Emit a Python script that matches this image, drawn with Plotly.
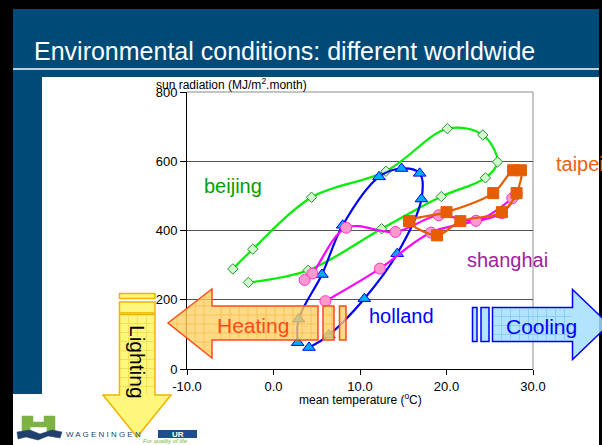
import plotly.graph_objects as go

# ---- monthly climate data (mean temperature in degC, sun radiation in MJ/m2.month)
beijing_temp = [-4.7, -2.4, 4.4, 13.0, 20.1, 24.2, 25.9, 24.5, 19.4, 12.5, 4.0, -2.9]
beijing_rad = [289, 346, 496, 571, 694, 676, 598, 552, 498, 405, 285, 250]

holland_temp = [2.8, 2.9, 5.6, 8.0, 12.2, 14.8, 16.9, 17.1, 14.3, 10.5, 6.4, 4.1]
holland_rad = [76, 144, 273, 415, 555, 579, 565, 491, 333, 203, 98, 62]

shanghai_temp = [3.6, 4.5, 8.4, 14.1, 19.1, 23.4, 27.6, 28.1, 26.4, 18.2, 12.3, 6.0]
shanghai_rad = [257, 276, 408, 396, 444, 428, 493, 505, 450, 394, 290, 196]

taipei_temp = [15.7, 20.0, 25.4, 27.7, 28.6, 28.1, 26.4, 21.6, 18.9, 15.7]
taipei_rad = [427, 453, 508, 574, 574, 508, 453, 427, 386, 427]

x_ticks = [-10, 0, 10, 20, 30]
y_ticks = [0, 200, 400, 600, 800]

W, H = 602, 445
L, R, T, B = 187, 69, 92, 76
PW, PH = W - L - R, H - T - B


def px(x):
    return (x - L) / PW


def py(y):
    return (T + PH - y) / PH


def rect(x0, y0, x1, y1, fill, line=None, lw=0, layer="below"):
    return dict(type="rect", xref="paper", yref="paper",
                x0=px(x0), x1=px(x1), y0=py(y0), y1=py(y1),
                fillcolor=fill, line=dict(color=line or fill, width=lw), layer=layer)


def poly(points, fill, line, lw=1.5, layer="above"):
    d = "M " + " L ".join(f"{px(a):.5f},{py(b):.5f}" for a, b in points) + " Z"
    return dict(type="path", xref="paper", yref="paper", path=d,
                fillcolor=fill, line=dict(color=line, width=lw), layer=layer)


def seg(x0, y0, x1, y1, color, width=0.7):
    return dict(type="line", xref="paper", yref="paper", x0=px(x0), x1=px(x1),
                y0=py(y0), y1=py(y1), line=dict(color=color, width=width), layer="above")


def grid_rect(x0, y0, x1, y1, step, color):
    out = []
    x = x0 + step
    while x < x1 - 1:
        out.append(seg(x, y0 + 0.8, x, y1 - 0.8, color))
        x += step
    y = y0 + step
    while y < y1 - 1:
        out.append(seg(x0 + 0.8, y, x1 - 0.8, y, color))
        y += step
    return out


fig = go.Figure()

series = [
    ("beijing", beijing_temp, beijing_rad, "#00ee00", "diamond", "#ccffcc", "#2e8b2e", 8),
    ("holland", holland_temp, holland_rad, "#0000ff", "triangle-up", "#00aaff", "#0000ff", 11),
    ("shanghai", shanghai_temp, shanghai_rad, "#ff00ff", "circle", "#ff99cc", "#ff33cc", 11),
    ("taipei", taipei_temp, taipei_rad, "#e65c00", "square", "#e65c00", "#e65c00", 11),
]
for name, xs, ys, lc, sym, mf, ml, ms in series:
    fig.add_trace(go.Scatter(
        x=xs, y=ys, name=name, mode="lines+markers",
        line=dict(color=lc, width=2.2, shape="spline", smoothing=1.0),
        marker=dict(symbol=sym, size=ms, color=mf, line=dict(color=ml, width=1)),
        showlegend=False, hoverinfo="skip"))

shapes = []
# slide frame and header
shapes.append(rect(0, 0, 602, 9, "#000000"))
shapes.append(rect(0, 0, 13, 445, "#000000"))
shapes.append(rect(599, 0, 602, 445, "#000000"))
shapes.append(rect(13, 9, 599, 77, "#004a78"))
shapes.append(rect(13, 77, 42, 394, "#004a78"))
shapes.append(dict(type="line", xref="paper", yref="paper", x0=px(13), x1=px(599),
                   y0=py(69), y1=py(69), line=dict(color="white", width=1.5), layer="below"))
# plot frame: grey top and right borders
shapes.append(dict(type="line", xref="paper", yref="paper", x0=0, x1=1, y0=1, y1=1,
                   line=dict(color="#8c8c8c", width=1.2), layer="below"))
shapes.append(dict(type="line", xref="paper", yref="paper", x0=1, x1=1, y0=0, y1=1,
                   line=dict(color="#b4b4b4", width=1.5), layer="below"))

# Heating arrow (pointing left) with two trailing bars
heat_fill, heat_line, heat_grid = "rgba(255,208,100,0.78)", "#ff4a1a", "rgba(240,180,60,0.8)"
shapes.append(poly([(168, 323), (212, 289), (212, 306), (318, 306), (318, 340),
                    (212, 340), (212, 358)], heat_fill, heat_line))
shapes += grid_rect(212, 306, 318, 340, 9, heat_grid)
for gx in (177, 186, 195, 204):
    h = 34.5 * (gx - 168) / 44
    shapes.append(seg(gx, 323 - h + 1, gx, 323 + h - 1, heat_grid))
for gy in (297, 306, 315, 324, 333, 342, 351):
    xa = 168 + 44 * abs(gy - 323) / 34.5
    shapes.append(seg(xa + 1, gy, 212, gy, heat_grid))
shapes.append(poly([(323, 306), (334, 306), (334, 340), (323, 340)], heat_fill, heat_line))
shapes.append(poly([(339.5, 306), (346, 306), (346, 340), (339.5, 340)], heat_fill, heat_line))
shapes += grid_rect(323, 306, 334, 340, 9, heat_grid)

# Cooling arrow (pointing right)
cool_fill, cool_line, cool_grid = "rgba(165,222,255,0.85)", "#0000ff", "rgba(110,190,240,0.8)"
shapes.append(poly([(492.5, 307.5), (572.5, 307.5), (572.5, 289.5), (609, 324.5),
                    (572.5, 359.5), (572.5, 341.5), (492.5, 341.5)], cool_fill, cool_line))
shapes += grid_rect(492.5, 307.5, 572.5, 341.5, 9, cool_grid)
shapes.append(poly([(472.5, 307.5), (477, 307.5), (477, 341.5), (472.5, 341.5)], cool_fill, cool_line))
shapes.append(poly([(481, 307.5), (489, 307.5), (489, 341.5), (481, 341.5)], cool_fill, cool_line))

# Lighting arrow (pointing down)
lit_fill, lit_line, lit_grid = "rgba(255,245,110,0.9)", "#f0b400", "rgba(235,215,60,0.9)"
shapes.append(poly([(119.5, 314.5), (155, 314.5), (155, 395), (171, 395), (137, 437),
                    (103, 395), (119.5, 395)], lit_fill, lit_line))
shapes += grid_rect(119.5, 314.5, 155, 395, 9, lit_grid)
shapes.append(poly([(119.5, 293.5), (155, 293.5), (155, 298.5), (119.5, 298.5)], lit_fill, lit_line))
shapes.append(poly([(119.5, 302), (155, 302), (155, 313), (119.5, 313)], lit_fill, lit_line))

# Wageningen UR logo
shapes.append(poly([(22, 416), (33, 416), (33, 422), (44, 422), (44, 416), (55, 416),
                    (55, 433), (47, 433), (47, 427), (30, 427), (30, 433), (22, 433)],
                   "#7cb342", "#7cb342", lw=0.5, layer="below"))
shapes.append(poly([(17, 432), (30, 430), (40, 434), (52, 430), (62, 432), (60, 438),
                    (48, 436), (38, 440), (26, 437), (18, 439)],
                   "#1f3f6e", "#1f3f6e", lw=0.5, layer="below"))
shapes.append(rect(158, 430, 197, 438, "#1f4e8c", layer="below"))

fig.update_layout(shapes=shapes)

sans = "Liberation Sans, Arial, sans-serif"
annotations = [
    dict(text="Environmental conditions: different worldwide", x=px(32), y=py(51),
         xanchor="left",
         font=dict(family=sans, size=25, color="white")),
    dict(text="sun radiation (MJ/m<sup>2</sup>.month)", x=px(154), y=py(84),
         xanchor="left", font=dict(family=sans, size=12, color="black")),
    dict(text="mean temperature (<sup>o</sup>C)", x=px(360), y=py(399),
         font=dict(family=sans, size=12, color="black")),
    dict(text="beijing", x=px(233), y=py(186), font=dict(family=sans, size=20, color="#00a000")),
    dict(text="taipei", x=px(554), y=py(164), xanchor="left",
         font=dict(family=sans, size=20, color="#ee6010")),
    dict(text="shanghai", x=px(507), y=py(260), font=dict(family=sans, size=20, color="#a020a0")),
    dict(text="holland", x=px(401), y=py(316), font=dict(family=sans, size=20, color="#0000ff")),
    dict(text="Heating", x=px(253), y=py(325), font=dict(family=sans, size=21, color="#ff4a1a")),
    dict(text="Cooling", x=px(541), y=py(326), font=dict(family=sans, size=21, color="#0000ff")),
    dict(text="Lighting", x=px(138), y=py(362), textangle=90,
         font=dict(family=sans, size=21, color="black")),
    dict(text="W A G E N I N G E N", x=px(64), y=py(434), xanchor="left",
         font=dict(family=sans, size=8, color="#1f3f6e")),
    dict(text="<b>UR</b>", x=px(177.5), y=py(434), font=dict(family=sans, size=8, color="white")),
    dict(text="<i>For quality of life</i>", x=px(165), y=py(441),
         font=dict(family=sans, size=6, color="#7cb342")),
]
for a in annotations:
    a.setdefault("showarrow", False)
    a.setdefault("xref", "paper")
    a.setdefault("yref", "paper")
    a.setdefault("xanchor", "center")
    a.setdefault("yanchor", "middle")
fig.update_layout(annotations=annotations)

fig.update_xaxes(range=[-10, 30], tickvals=x_ticks, ticktext=[f"{v:.1f}" for v in x_ticks],
                 showgrid=False, zeroline=False, showline=True, linecolor="black", linewidth=1,
                 ticks="outside", ticklen=5, tickcolor="black",
                 tickfont=dict(family=sans, size=13, color="black"))
fig.update_yaxes(range=[0, 800], tickvals=y_ticks, showgrid=True, gridcolor="#555555",
                 gridwidth=1, zeroline=False, showline=True, linecolor="black", linewidth=1,
                 ticks="outside", ticklen=6, tickcolor="black",
                 tickfont=dict(family=sans, size=13, color="black"))

fig.update_layout(width=W, height=H, autosize=False,
                  margin=dict(l=L, r=R, t=T, b=B, pad=0),
                  paper_bgcolor="white", plot_bgcolor="rgba(0,0,0,0)")

fig.write_html("out.html")
